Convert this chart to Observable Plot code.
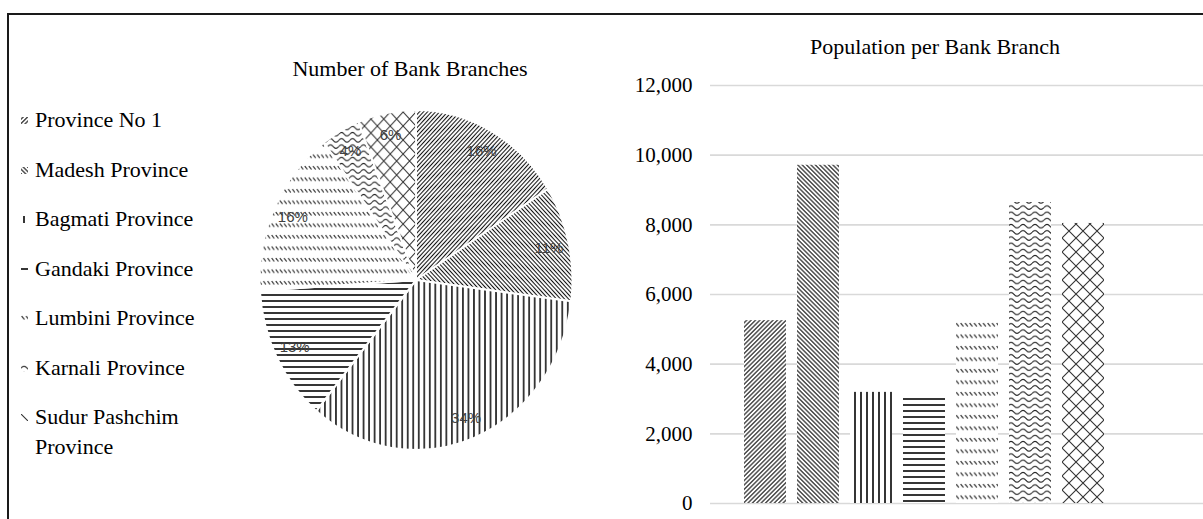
<!DOCTYPE html>
<html>
<head>
<meta charset="utf-8">
<script src="https://cdn.jsdelivr.net/npm/d3@7"></script>
<script src="https://cdn.jsdelivr.net/npm/@observablehq/plot@0.6"></script>
<style>
  html, body { margin: 0; padding: 0; background: #fff; }
  #wrap { position: relative; width: 1203px; height: 519px; overflow: hidden; background: #fff;
          font-family: "Liberation Serif", "Times New Roman", serif; color: #000; }
  #frame { position: absolute; left: 7px; top: 13px; width: 1400px; height: 700px; border: 2px solid #1a1a1a; box-sizing: border-box; }
  .title { position: absolute; font-size: 22px; line-height: 1; white-space: nowrap; transform: translateX(-50%); }
  #legend { position: absolute; left: 21px; top: 105px; width: 190px; font-size: 22px; }
  .item { position: relative; line-height: 30px; margin-bottom: 19.5px; padding-left: 14px; }
  .item svg { position: absolute; left: 0; top: 12px; }
  #pie { position: absolute; left: 0; top: 0; }
  #bars { position: absolute; left: 600px; top: 0; }
  #defs { position: absolute; width: 0; height: 0; }
</style>
</head>
<body>
<svg id="defs" width="0" height="0">
  <defs>
    <pattern id="p1" width="3.1" height="3.1" patternUnits="userSpaceOnUse" patternTransform="rotate(45)">
      <rect width="3.1" height="3.1" fill="#fff"/><line x1="1.55" y1="-1" x2="1.55" y2="5" stroke="#111" stroke-width="1.1"/>
    </pattern>
    <pattern id="p2" width="3.1" height="3.1" patternUnits="userSpaceOnUse" patternTransform="rotate(-45)">
      <rect width="3.1" height="3.1" fill="#fff"/><line x1="1.55" y1="-1" x2="1.55" y2="5" stroke="#111" stroke-width="1.1"/>
    </pattern>
    <pattern id="p3" width="6" height="6" patternUnits="userSpaceOnUse">
      <rect width="6" height="6" fill="#fff"/><line x1="3" y1="0" x2="3" y2="6" stroke="#111" stroke-width="1.7"/>
    </pattern>
    <pattern id="p4" width="6" height="6" patternUnits="userSpaceOnUse">
      <rect width="6" height="6" fill="#fff"/><line x1="0" y1="3" x2="6" y2="3" stroke="#111" stroke-width="1.7"/>
    </pattern>
    <pattern id="p5" width="4.5" height="11.5" patternUnits="userSpaceOnUse">
      <rect width="4.5" height="11.5" fill="#fff"/><line x1="0.6" y1="1" x2="3.4" y2="4.5" stroke="#222" stroke-width="1.1"/>
    </pattern>
    <pattern id="p6" width="12" height="6.2" patternUnits="userSpaceOnUse">
      <rect width="12" height="6.2" fill="#fff"/><path d="M0,3 C2,0.6 4,0.6 6,3 S10,5.4 12,3" fill="none" stroke="#222" stroke-width="1.1"/>
    </pattern>
    <pattern id="p7" width="14" height="14" patternUnits="userSpaceOnUse">
      <rect width="14" height="14" fill="#fff"/><path d="M0,0 L14,14 M14,0 L0,14" stroke="#333" stroke-width="1.1"/>
    </pattern>
  </defs>
</svg>
<div id="wrap">
  <div id="frame"></div>
  <div id="pie"></div>
  <div id="bars"></div>
  <div class="title" style="left:410px; top:58px;">Number of Bank Branches</div>
  <div class="title" style="left:935px; top:36px;">Population per Bank Branch</div>
  <div id="legend"></div>
</div>
<script>
// ---- data ----
const provinces = ["Province No 1", "Madesh Province", "Bagmati Province", "Gandaki Province",
                   "Lumbini Province", "Karnali Province", "Sudur Pashchim Province"];
const branchShare = [16, 11, 34, 13, 16, 4, 6];            // % of bank branches
const popPerBranch = [5250, 9710, 3190, 3100, 5230, 8640, 8040];
const yTicks = [0, 2000, 4000, 6000, 8000, 10000, 12000];
const patternIds = ["p1", "p2", "p3", "p4", "p5", "p6", "p7"];

const color = Plot.scale({color: {type: "ordinal", domain: provinces, range: patternIds.map(id => `url(#${id})`)}});

// ---- legend ----
const legend = d3.select("#legend");
provinces.forEach(p => {
  const it = legend.append("div").attr("class", "item");
  it.append("svg").attr("width", 7).attr("height", 7)
    .append("rect").attr("width", 7).attr("height", 7).attr("fill", color.apply(p));
  it.append("span").text(p);
});

// ---- pie ----
const pieData = provinces.map((p, i) => ({province: p, share: branchShare[i]}));
const total = d3.sum(pieData, d => d.share);
const pieMark = () => {
  const cx = 416, cy = 280, r = 170, sx = 0.92;
  const arcs = d3.pie().sort(null).value(d => d.share)(pieData);
  const arc = d3.arc().innerRadius(0).outerRadius(r);
  const labelArc = d3.arc().innerRadius(148).outerRadius(148);
  const g = d3.create("svg:g");
  g.append("g").attr("transform", `translate(${cx},${cy}) scale(${sx},1)`)
    .selectAll("path").data(arcs).join("path")
    .attr("d", arc)
    .attr("fill", d => color.apply(d.data.province))
    .attr("stroke", "#fff").attr("stroke-width", 2);
  g.append("g").attr("transform", `translate(${cx},${cy})`)
    .selectAll("text").data(arcs).join("text")
    .attr("x", d => labelArc.centroid(d)[0] * sx)
    .attr("y", d => labelArc.centroid(d)[1])
    .attr("text-anchor", "middle").attr("dy", "0.35em")
    .attr("font-family", "'Liberation Sans', Arial, sans-serif")
    .attr("font-size", 15).attr("fill", "#404040")
    .text(d => Math.round(d.data.share / total * 100) + "%");
  return g.node();
};
document.getElementById("pie").append(Plot.plot({
  width: 600, height: 519, margin: 0,
  style: {background: "transparent"},
  marks: [pieMark]
}));

// ---- bars ----
const barData = provinces.map((p, i) => ({province: p, value: popPerBranch[i]}));
document.getElementById("bars").append(Plot.plot({
  width: 603, height: 519,
  marginTop: 85, marginBottom: 16, marginLeft: 110, marginRight: 0,
  style: {background: "transparent", fontFamily: "'Liberation Serif', 'Times New Roman', serif", fontSize: "21px", color: "#000"},
  x: {type: "band", domain: provinces, range: [138, 509], paddingInner: 0.21, paddingOuter: 0.105, axis: null},
  y: {domain: [0, 12000], ticks: yTicks, tickFormat: d3.format(","), tickSize: 0, tickPadding: 18, label: null},
  color: {domain: provinces, range: patternIds.map(id => `url(#${id})`)},
  marks: [
    Plot.ruleY(yTicks, {stroke: "#d9d9d9", strokeWidth: 1.6}),
    Plot.barY(barData, {x: "province", y: "value", fill: "province"})
  ]
}));
</script>
</body>
</html>
